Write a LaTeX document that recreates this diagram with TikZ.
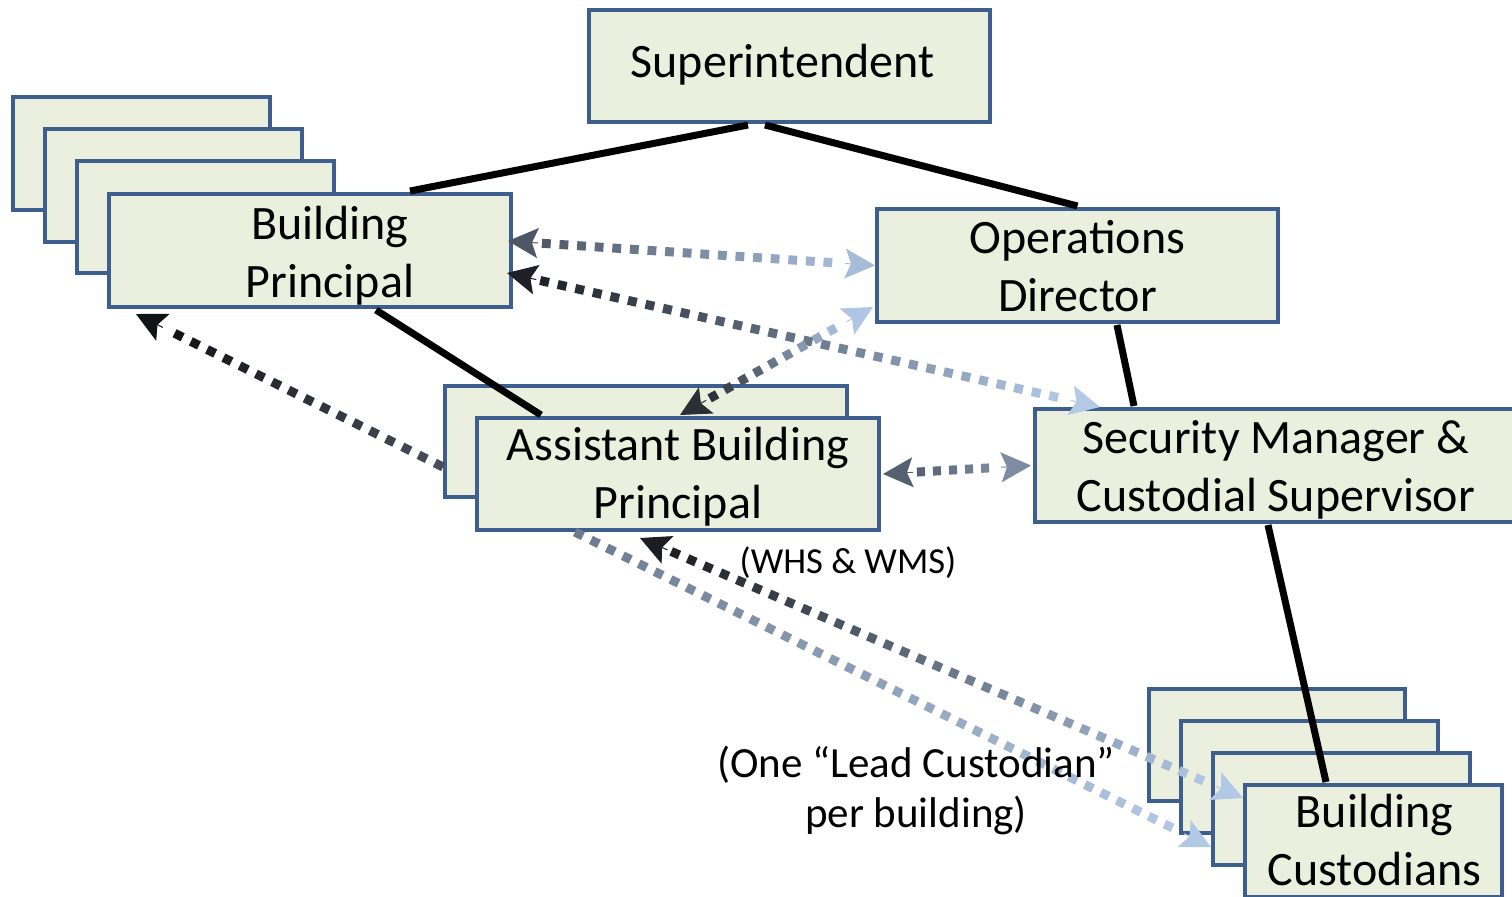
\documentclass[tikz,border=0pt]{standalone}
\usepackage{fontspec}
\setmainfont{Carlito}
\usetikzlibrary{calc,arrows.meta}
\definecolor{boxfill}{HTML}{EBF0DE}
\definecolor{boxline}{HTML}{3C5F8E}
\definecolor{aa1}{HTML}{4E5766}\definecolor{ab1}{HTML}{A7BCD9}
\definecolor{aa2}{HTML}{1D2127}\definecolor{ab2}{HTML}{B3C9E6}
\definecolor{aa3}{HTML}{2A2E35}\definecolor{ab3}{HTML}{AFC5E3}
\definecolor{aa4}{HTML}{48505B}\definecolor{ab4}{HTML}{111316}
\definecolor{aa5}{HTML}{566070}\definecolor{ab5}{HTML}{7E8CA3}
\definecolor{aa6}{HTML}{1B1E22}\definecolor{ab6}{HTML}{B3C8E5}
\definecolor{aa7}{HTML}{6B7A8F}\definecolor{ab7}{HTML}{B3C8E5}
\tikzset{
  box/.style={draw=boxline, fill=boxfill, line width=2pt, inner sep=0pt},
  boxtext/.style={align=center, inner sep=0pt, font=\fontsize{24}{29}\selectfont, text=black},
  sz/.style n args={2}{minimum width=#1*0.5pt, minimum height=#2*0.5pt},
  link/.style={line width=3.5pt, black},
  gdash/.style={line width=4.5pt, line cap=butt},
  tipst/.style={line width=0.5pt, -{Stealth[length=15pt,width=15pt,inset=3pt]}},
  lbl/.style={font=\fontsize{18.3}{25}\selectfont, align=center, inner sep=0pt},
  lbltwo/.style={font=\fontsize{21.5}{25}\selectfont, align=center, inner sep=0pt},
}
% #1 number of dashes, #2 start, #3 end, #4 start colour, #5 end colour, #6/#7 offsets
\newcommand\garrow[7]{%
  \coordinate (gs) at ($(#2)!#6!(#3)$);
  \coordinate (ge) at ($(#3)!#7!(#2)$);
  \foreach \i in {1,...,#1}{%
    \pgfmathsetmacro\ta{(\i-1)/#1}%
    \pgfmathsetmacro\tb{(\i-0.5)/#1}%
    \pgfmathtruncatemacro\pc{100-100*(\i-0.75)/#1}%
    \draw[gdash,#4!\pc!#5] ($(gs)!\ta!(ge)$) -- ($(gs)!\tb!(ge)$);
  }%
}
\newcommand\gtip[3]{\draw[tipst,#3,fill=#3] ($(#1)!15pt!(#2)$) -- (#1);}
\begin{document}
\begin{tikzpicture}[x=0.5pt,y=-0.5pt]
\useasboundingbox (0,0) rectangle (1512,896);
\clip (0,0) rectangle (1512,896);
% boxes
\node[box, sz={257}{113}] (bp1) at (141.5,153.5) {};
\node[box, sz={257}{113}] (bp2) at (173.5,185.5) {};
\node[box, sz={257}{112}] (bp3) at (205.5,217) {};
\node[box, sz={402}{113}] (bp) at (310,250.5) {};
\node[boxtext] (bpt) at ($(bp.center)+(20,5)$) {Building\\Principal};
\node[box, sz={401}{112}] (sup) at (789.5,66) {};
\node[boxtext] (supt) at ($(sup.center)+(-7,-1)$) {Superintendent};
\node[box, sz={401}{113}] (od) at (1077.5,265.5) {};
\node[boxtext] (odt) at ($(od.center)+(0,1)$) {Operations\\Director};
\node[box, sz={482}{113}] (sec) at (1276,465.5) {};
\node[boxtext] (sect) at ($(sec.center)+(0,4)$) {Security Manager \&\\Custodial Supervisor};
\node[box, sz={402}{111}] (abp2) at (646,441.5) {};
\node[box, sz={402}{112}] (abp) at (678,474) {};
\node[boxtext] (abpt) at ($(abp.center)+(0,3)$) {Assistant Building\\Principal};
\node[box, sz={256}{112}] (bc1) at (1277,745) {};
\node[box, sz={257}{112}] (bc2) at (1309.5,777) {};
\node[box, sz={257}{112}] (bc3) at (1341.5,809) {};
\node[box, sz={257}{112}] (bc4) at (1373.5,841) {};
\node[boxtext] (bct) at ($(bc4.center)+(1,-1)$) {Building\\Custodians};
% solid links
\draw[link] ($(sup.south)+(-41.5,1)$) -- ($(bp.north)+(100,-1)$);
\draw[link] ($(sup.south)+(-24.5,1)$) -- ($(od.north)+(0,-1)$);
\draw[link] ($(bp.south)+(66,1)$) -- ($(abp.north)+(-137,-1)$);
\draw[link] ($(od.south)+(39.5,1)$) -- ($(sec.north)+(-142,-1)$);
\draw[link] ($(sec.south)+(-8,1)$) -- ($(bc4.north)+(-47.5,-1)$);
% arrow end points
\coordinate (e1a) at ($(bp.east)+(-5,-9.5)$);
\coordinate (e1b) at (od.west);
\coordinate (e2a) at ($(bp.east)+(-6,22.5)$);
\coordinate (e2b) at ($(sec.north west)+(67,0)$);
\coordinate (e3a) at ($(abp.north)+(2,-1)$);
\coordinate (e3b) at ($(od.south west)+(-2,-17)$);
\coordinate (e4a) at ($(abp2.west)+(0,25.5)$);
\coordinate (e4b) at ($(bp.south west)+(29,5)$);
\coordinate (e5a) at ($(abp.east)+(2,0)$);
\coordinate (e5b) at ($(sec.west)+(-2,0)$);
\coordinate (e6a) at ($(abp.south)+(-38,6)$);
\coordinate (e6b) at ($(bc4.west)+(0,-43)$);
\coordinate (e7a) at ($(abp.south)+(-103,0)$);
\coordinate (e7b) at ($(bc3.west)+(0,38)$);
% gradient dotted arrows
\garrow{17}{e1a}{e1b}{aa1}{ab1}{17pt}{17pt}
\gtip{e1a}{e1b}{aa1}\gtip{e1b}{e1a}{ab1}
\garrow{30}{e2a}{e2b}{aa2}{ab2}{17pt}{17pt}
\gtip{e2a}{e2b}{aa2}\gtip{e2b}{e2a}{ab2}
\garrow{9}{e3a}{e3b}{aa3}{ab3}{17pt}{17pt}
\gtip{e3a}{e3b}{aa3}\gtip{e3b}{e3a}{ab3}
\garrow{17}{e4a}{e4b}{aa4}{ab4}{0pt}{17pt}
\gtip{e4b}{e4a}{ab4}
\garrow{5}{e5a}{e5b}{aa5}{ab5}{17pt}{17pt}
\gtip{e5a}{e5b}{aa5}\gtip{e5b}{e5a}{ab5}
\garrow{33}{e6a}{e6b}{aa6}{ab6}{17pt}{17pt}
\gtip{e6a}{e6b}{aa6}\gtip{e6b}{e6a}{ab6}
\garrow{38}{e7a}{e7b}{aa7}{ab7}{0pt}{17pt}
\gtip{e7b}{e7a}{ab7}
% labels
\node[lbl] (whs) at (848,563) {(WHS \& WMS)};
\node[lbltwo] (lead) at (916,790) {(One “Lead Custodian”\\per building)};
\end{tikzpicture}
\end{document}
